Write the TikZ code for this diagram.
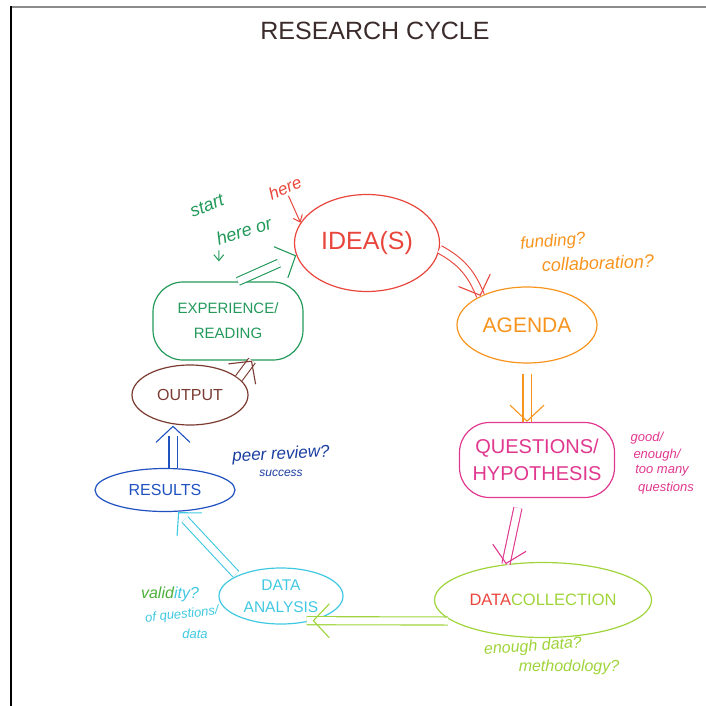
\documentclass[tikz,border=0pt]{standalone}
\usepackage{fontspec}
\setmainfont{Liberation Sans}
\usetikzlibrary{shapes,arrows.meta,positioning,decorations.markings}

\definecolor{ink}{HTML}{3B2B2B}
\definecolor{ideared}{HTML}{E8463C}
\definecolor{agendaorange}{HTML}{F7941D}
\definecolor{questpink}{HTML}{E0388F}
\definecolor{collgreen}{HTML}{9FD43A}
\definecolor{analcyan}{HTML}{40C8E0}
\definecolor{resblue}{HTML}{1F52C0}
\definecolor{notblue}{HTML}{1A3DA0}
\definecolor{outbrown}{HTML}{7A3A30}
\definecolor{expgreen}{HTML}{23995A}
\definecolor{validgreen}{HTML}{4CAF3A}
\newcommand{\fsz}[1]{\fontsize{#1}{#1}\selectfont}

\begin{document}
\begin{tikzpicture}[x=1pt,y=-1pt,
    stage/.style={draw, ellipse, line width=1.2pt, inner sep=0pt},
    blob/.style={draw, rectangle, rounded corners=30pt, line width=1.2pt, inner sep=0pt, align=center},
    note/.style={inner sep=0pt, font=\itshape\fsz{#1}},
    flow/.style={double, double distance=7pt, line width=1.1pt,
        postaction={decorate, decoration={markings, mark=at position 1 with
            {\pgfsetinnerlinewidth{0pt}\arrow[line width=1.1pt]{Straight Barb[length=16pt,width=34pt]}}}}},
    pointer/.style={line width=1pt, -{Straight Barb[length=6pt,width=10pt]}}]
    \useasboundingbox (0,0) rectangle (706,706);
    % frame of the scan
    \draw[gray!90, line width=2pt] (11,7) -- (706,7);
    \draw[black, line width=1.6pt] (11,6) -- (11,706);

    \node[ink, font=\fsz{25}] (title) at (375,31) {RESEARCH CYCLE};

    % stages
    \node[stage, ideared, minimum width=145pt, minimum height=97pt, font=\fsz{25}] (idea) at (367,243) {IDEA(S)};
    \node[stage, agendaorange, minimum width=140pt, minimum height=76pt, font=\fsz{21}] (agenda) at (527,325) {AGENDA};
    \node[blob, questpink, minimum width=155pt, minimum height=75pt, font=\fontsize{20}{27}\selectfont] (questions) at (537,460) {QUESTIONS/\\HYPOTHESIS};
    \node[stage, collgreen, minimum width=217pt, minimum height=75pt, font=\fsz{16.5}] (datacoll) at (543,600) {{\color{ideared}DATA}COLLECTION};
    \node[stage, analcyan, minimum width=124pt, minimum height=56pt, align=center, font=\fontsize{15.5}{22}\selectfont] (analysis) at (281,596) {DATA\\ANALYSIS};
    \node[stage, resblue, minimum width=140pt, minimum height=43pt, font=\fsz{16}] (results) at (165,490) {RESULTS};
    \node[stage, outbrown, minimum width=116pt, minimum height=60pt, font=\fsz{16}] (output) at (190,395) {OUTPUT};
    \node[blob, expgreen, minimum width=150pt, minimum height=78pt, font=\fontsize{15}{25}\selectfont] (experience) at (228,321) {EXPERIENCE/\\READING};

    % side notes
    \node[note=17, ideared, rotate=24] (here) at (285,188) {here};
    \node[note=18, expgreen, rotate=22] (start) at (207,206) {start};
    \node[note=18, expgreen, rotate=18] (hereor) at (244,231) {here or};
    \node[note=17, agendaorange, rotate=5] (funding) at (553,242) {funding?};
    \node[note=18, agendaorange, rotate=2] (collab) at (598,263) {collaboration?};
    \node[note=13, questpink] (good) at (647,438) {good/};
    \node[note=13, questpink] (enough) at (657,455) {enough/};
    \node[note=13, questpink] (toomany) at (662,471) {too many};
    \node[note=13, questpink, anchor=west] (quest) at (638,488) {questions};
    \node[note=17, notblue, rotate=3] (peer) at (281,455) {peer review?};
    \node[note=12, notblue] (success) at (281,473) {success};
    \node[note=16, analcyan] (validity) at (170,594) {{\color{validgreen}valid}ity?};
    \node[note=13, analcyan, rotate=6] (ofquest) at (182,615) {of questions/};
    \node[note=13, analcyan] (ofdata) at (195,634) {data};
    \node[note=16, collgreen, rotate=4] (enoughdata) at (533,647) {enough data?};
    \node[note=16, collgreen] (method) at (569,667) {methodology?};

    % the cycle
    \draw[flow, ideared] (idea.-5) to[bend left=20] (agenda.148);
    \draw[flow, agendaorange, shorten <=10pt] (agenda.south) -- (agenda.south |- questions.north);
    \draw[flow, questpink, shorten <=10pt] ([xshift=-17pt]questions.south) -- (datacoll.136);
    \draw[flow, collgreen, shorten <=4pt, shorten >=-6pt] (datacoll.193) -- (analysis.-38);
    \draw[flow, analcyan, shorten <=2pt, shorten >=10pt] (analysis.155) -- ([xshift=13pt]results.south);
    \draw[flow, resblue, shorten >=10pt] ([xshift=8pt]results.north) -- ([xshift=8pt]results.north |- output.south);
    \draw[flow, outbrown] (output.19) -- ([xshift=24pt]experience.south);
    \draw[flow, expgreen, shorten >=19pt] ([xshift=10pt]experience.north) -- (idea.190);

    % where to start
    \draw[pointer, expgreen, shorten <=4pt, shorten >=20pt] (hereor.south west) -- ([xshift=-9pt]experience.north);
    \draw[pointer, ideared, shorten <=2pt] (here.south) -- (idea.163);
\end{tikzpicture}
\end{document}
